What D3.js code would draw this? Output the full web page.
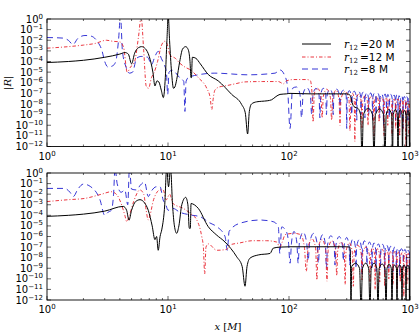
<!DOCTYPE html>
<html><head><meta charset="utf-8">
<script src="https://cdn.jsdelivr.net/npm/d3@7"></script>
<style>body{margin:0;background:#fff}svg{display:block}</style>
</head><body>
<script>
// ---------------- data ----------------
const seriesLabels = ["20 M", "12 M", "8 M"];
const xTickValues = [1, 10, 100, 1000];
const xTickExp = ["0", "1", "2", "3"];
const yTickExp = ["0","−1","−2","−3","−4","−5","−6","−7","−8","−9","−10","−11","−12"];

const blackTop = [[1,8e-5],[1.5,1e-4],[2,1.3e-4],[3,2.5e-4],[4,5e-4],[4.4,7e-4],[4.7,5e-4],[5.0,6e-5],[5.3,6e-4],[5.7,2e-3],[6.05,2.5e-3],[6.5,1.6e-3],[7.0,3e-4],[7.5,1e-5],[7.8,5e-7],[8.1,1.5e-6],[8.4,1.2e-6],[8.8,2e-7],[9.15,4e-8],[9.5,3e-6],[9.8,1e-2],[10.05,2],[10.3,1e-2],[10.7,1e-5],[11.1,3e-7],[11.4,4e-7],[11.8,2e-6],[12.5,1e-4],[13.2,1.5e-3],[14.0,2.5e-3],[14.7,1.3e-3],[15.2,1e-4],[15.5,3e-6],[15.6,3e-6],[15.9,2.5e-4],[17,2e-4],[18.5,6e-5],[21.5,6e-6],[26,1.5e-6],[33.6,8e-8],[40.6,9e-9],[43.5,1.5e-9],[45.5,1.5e-11],[47,2e-9],[49,1e-8],[54,1.6e-8],[59.4,1.8e-8],[66,2e-8],[71.9,2.5e-8],[78,5e-8],[84.3,8e-8],[95,9e-8],[102,1e-7],[150,9e-8],[250,9e-8],[300,9e-8],[315,8e-8],[325,4e-8],[335,1e-8],[350,5e-9],[370,4e-9],[390,1e-9],[401,1e-13],[412,1e-9],[450,4e-9],[490,1e-9],[504,1e-13],[518,1e-9],[560,3.5e-9],[605,1e-9],[621,1e-13],[636,1e-9],[668,3e-9],[705,1e-9],[717,1e-13],[728,1e-9],[755,3e-9],[785,1e-9],[796,1e-13],[806,1e-9],[830,3e-9],[858,1e-9],[867,1e-13],[876,1e-9],[900,2.5e-9],[926,1e-9],[935,1e-13],[944,1e-9],[962,2.5e-9],[983,1e-9],[991,1e-13],[997,1e-9],[1000,2e-9]];

const redTop = [[1,1.8e-3],[1.5,2.5e-3],[2,3.5e-3],[2.5,5e-3],[3.1,1e-2],[3.5,8e-3],[4.0,7e-3],[4.3,2e-3],[4.6,1e-5],[4.9,3e-5],[5.3,1e-4],[5.7,2e-2],[6.0,1.5],[6.3,1e-3],[6.6,5e-7],[6.9,3e-7],[7.3,3e-6],[7.7,1e-5],[8.2,1e-4],[8.8,3e-3],[9.4,8e-3],[9.8,5e-3],[10.4,4e-4],[11.5,2e-4],[12.5,7e-5],[13.8,3e-5],[15.5,1.5e-5],[17.8,3e-6],[20.9,3e-7],[22.3,4e-8],[23,3e-9],[23.7,4e-8],[24.4,2e-7],[26.5,4e-7],[29.6,5e-7],[36,8e-7],[43.3,1.2e-6],[60,1.3e-6],[81.6,1.3e-6],[90,8e-7],[95,1.5e-6],[110,2e-6],[140,2e-6],[150,1.6e-6],[155,1e-7],[158,2e-10],[162,1e-7],[172,3e-7],[184,5e-8],[188,5e-10],[192,5e-8],[205,2.5e-7],[220,4e-8],[225,3e-10],[230,4e-8],[245,2e-7],[259,3e-8],[264,1e-10],[269,3e-8],[290,1.5e-7],[313,3e-8],[319,3e-11],[325,3e-8],[335,1e-7],[346,3e-8],[350,3e-12],[355,3e-8],[375,8e-8],[395,2e-8],[401,5e-11],[407,2e-8],[425,6e-8],[444,2e-8],[450,1e-10],[456,2e-8],[480,5e-8],[498,2e-8],[504,1e-11],[510,2e-8],[530,5e-8],[550,1.5e-8],[555,2e-10],[560,1.5e-8],[585,4e-8],[604,1.5e-8],[610,1e-11],[616,1.5e-8],[635,4e-8],[650,1.5e-8],[655,1e-10],[660,1.5e-8],[685,3e-8],[706,1e-8],[711,1e-11],[716,1e-8],[740,3e-8],[757,1e-8],[762,5e-11],[767,1e-8],[795,3e-8],[817,1e-8],[822,1e-11],[827,1e-8],[850,2.5e-8],[870,1e-8],[875,5e-11],[880,1e-8],[900,2.5e-8],[920,1e-8],[925,1e-12],[930,1e-8],[955,2e-8],[978,1e-8],[983,1e-11],[988,1e-8],[1000,2e-8]];

const blueTop = [[1,1.8e-2],[1.35,1.6e-2],[1.5,1e-2],[1.64,4e-3],[1.8,1.5e-2],[2.06,2.8e-2],[2.3,2.5e-2],[2.6,8e-3],[2.85,1e-3],[3.0,1e-4],[3.2,3e-5],[3.5,4e-5],[3.7,1e-4],[3.9,1e-2],[4.05,2],[4.2,1e-3],[4.5,3e-5],[4.8,8e-6],[5.1,1e-5],[5.5,2e-4],[6.0,3e-4],[6.8,2.5e-4],[7.3,5e-5],[7.8,3e-4],[8.3,9e-4],[8.8,2e-4],[9.3,5e-5],[9.7,1e-5],[9.94,8e-8],[10.2,1e-5],[10.8,1.5e-5],[12.5,3e-6],[13.5,1.3e-6],[13.8,2e-9],[14.1,1.3e-6],[14.7,3e-6],[17.8,5.6e-6],[24.4,8e-6],[46,5.6e-6],[76.6,8e-6],[84.3,1.6e-5],[92,5e-6],[97,5e-7],[102,5e-11],[107,3e-7],[115,4e-7],[123,1e-7],[127,5e-10],[131,1e-7],[140,3.5e-7],[150,8e-8],[154,1e-9],[158,8e-8],[167,3e-7],[177,8e-8],[180,5e-10],[183,8e-8],[192,3e-7],[201,8e-8],[204,1e-9],[207,8e-8],[218,2.5e-7],[229,7e-8],[232,1e-9],[235,7e-8],[248,2.5e-7],[261,7e-8],[264,2e-9],[267,7e-8],[282,2e-7],[297,6e-8],[300,5e-11],[303,6e-8],[315,1.8e-7],[327,6e-8],[330,1e-9],[333,6e-8],[346,1.6e-7],[360,5e-8],[363,3e-10],[366,5e-8],[380,1.4e-7],[391,5e-8],[394,1e-9],[397,5e-8],[410,1.3e-7],[421,5e-8],[424,5e-10],[427,5e-8],[440,1.2e-7],[453,4e-8],[456,1e-9],[459,4e-8],[473,1.1e-7],[487,4e-8],[490,3e-10],[493,4e-8],[507,1e-7],[521,4e-8],[524,1e-9],[527,4e-8],[543,1e-7],[558,4e-8],[562,5e-10],[566,4e-8],[583,9e-8],[600,3.5e-8],[604,1e-10],[608,3.5e-8],[622,9e-8],[636,3.5e-8],[640,1e-9],[644,3.5e-8],[657,8e-8],[670,3e-8],[674,5e-10],[678,3e-8],[695,8e-8],[713,3e-8],[717,1e-9],[721,3e-8],[738,7e-8],[756,3e-8],[760,2e-10],[764,3e-8],[778,7e-8],[792,3e-8],[796,1e-9],[800,3e-8],[813,6e-8],[827,3e-8],[831,5e-10],[835,3e-8],[853,6e-8],[871,2.5e-8],[875,5e-11],[879,2.5e-8],[898,5e-8],[917,2.5e-8],[921,1e-9],[925,2.5e-8],[942,5e-8],[958,2.5e-8],[962,3e-10],[966,2.5e-8],[985,4e-8],[1000,3e-8]];

const blackBottom = [[1,8e-5],[1.5,1e-4],[2,1.3e-4],[3,2.5e-4],[4.27,7e-4],[4.55,3e-4],[4.76,3.5e-5],[5.0,3e-4],[5.4,2e-3],[5.87,3e-3],[6.4,1.5e-3],[6.87,3e-4],[7.4,1e-5],[7.8,5e-7],[8.05,1e-6],[8.3,5e-8],[8.6,1e-6],[8.9,5e-6],[9.4,1e-3],[9.75,3],[10.1,5e-2],[10.5,3],[10.9,1e-3],[11.3,1e-5],[11.8,2e-6],[12.3,1e-5],[13,1e-3],[14,5e-3],[14.6,1e-3],[15,6e-6],[15.3,6e-6],[15.5,1.3e-3],[16.5,1e-3],[17.8,4.5e-4],[21.5,8.5e-6],[25,1.5e-6],[29.6,3e-7],[37,1.2e-8],[41,1.5e-9],[43.3,2e-11],[45,1.5e-9],[47.6,9e-9],[55.7,1.8e-8],[69.7,2.5e-8],[74.2,8e-8],[85,1e-7],[102,1.07e-7],[300,1.07e-7],[318,1e-7],[322,1e-8],[325,1e-13],[330,1.5e-9],[355,3e-9],[383,1e-9],[394,1e-13],[405,1e-9],[430,3e-9],[455,1e-9],[467,1e-13],[478,1e-9],[505,3e-9],[532,1e-9],[544,1e-13],[556,1e-9],[590,2.5e-9],[620,1e-9],[634,1e-13],[646,1e-9],[672,2.5e-9],[700,1e-9],[710,1e-13],[720,1e-9],[745,2e-9],[772,1e-9],[781,1e-13],[790,1e-9],[820,2e-9],[850,1e-9],[859,1e-13],[868,1e-9],[893,2e-9],[920,1e-9],[927,1e-13],[934,1e-9],[960,2e-9],[985,1e-9],[991,1e-13],[996,1e-9],[1000,1.5e-9]];

const redBottom = [[1,2e-3],[1.5,3e-3],[2.06,4e-3],[2.83,1e-2],[3.4,1.7e-2],[3.8,8e-3],[4.1,1.3e-3],[4.4,1e-4],[4.56,2.5e-5],[4.8,1e-4],[5.2,2e-3],[5.87,2.5e-2],[6.3,1e-2],[6.6,3e-4],[6.87,3.6e-5],[7.1,1e-4],[7.6,3e-3],[8.6,2.5e-2],[9.1,2.5e-2],[9.7,3e-3],[10.3,1e-2],[11,1.3e-3],[13.4,4.5e-4],[15.2,1.6e-4],[17.3,3.6e-5],[19,1e-6],[19.6,1e-7],[20.1,3e-10],[20.6,1e-7],[21.5,2e-7],[25.3,5e-8],[30.5,6e-8],[32.5,1.6e-7],[39.4,2.5e-7],[50,4e-7],[65,4e-7],[79,3e-7],[84,1e-7],[88,3e-7],[93,1.5e-6],[110,2e-6],[125,1.5e-6],[134,1e-7],[139,5e-10],[144,1e-7],[155,6e-7],[166,8e-8],[170,8e-11],[174,8e-8],[187,5e-7],[201,6e-8],[206,6e-11],[211,6e-8],[226,4e-7],[243,5e-8],[248,2e-10],[253,5e-8],[270,3e-7],[286,4e-8],[291,3e-11],[296,4e-8],[315,2.5e-7],[334,3e-8],[340,2e-11],[346,3e-8],[370,1.5e-7],[395,2.5e-8],[401,8e-11],[407,2.5e-8],[433,1e-7],[461,2e-8],[467,5e-11],[473,2e-8],[490,8e-8],[510,2e-8],[515,1e-11],[520,2e-8],[540,7e-8],[557,2e-8],[562,5e-11],[567,2e-8],[590,6e-8],[612,1.5e-8],[618,2e-11],[624,1.5e-8],[643,5e-8],[663,1.5e-8],[668,1e-10],[673,1.5e-8],[695,4e-8],[719,1.5e-8],[724,3e-11],[729,1.5e-8],[752,4e-8],[776,1.2e-8],[781,1e-11],[786,1.2e-8],[805,3.5e-8],[826,1.2e-8],[831,5e-11],[836,1.2e-8],[860,3e-8],[884,1e-8],[889,2e-12],[894,1e-8],[915,3e-8],[938,1e-8],[943,3e-11],[948,1e-8],[967,2.5e-8],[986,1e-8],[991,1e-12],[996,1e-8],[1000,2e-8]];

const blueBottom = [[1,3.5e-2],[1.4,3.5e-2],[1.55,1.5e-2],[1.65,6e-3],[1.8,3e-2],[2.0,9e-2],[2.3,5e-2],[2.74,3e-3],[3.0,1e-4],[3.2,2e-4],[3.4,3e-4],[3.55,1e-2],[3.65,3],[3.8,1e-1],[4.1,1.5e-2],[4.4,2.5e-2],[4.65,1e-3],[4.8,3],[5.0,3e-2],[5.5,2.5e-2],[5.9,7e-2],[6.4,1.4e-1],[6.87,6e-3],[7.3,2e-2],[8.0,5e-2],[8.6,5e-2],[9.1,3e-3],[9.6,1e-3],[10,3e-4],[11,4.5e-4],[12.5,2e-4],[15.2,1.1e-4],[18.4,7.5e-5],[22,2e-5],[25.3,8.5e-6],[29.6,1e-6],[30.9,5e-8],[32,3e-6],[39.4,1.8e-5],[57.6,3.6e-5],[74,2.5e-5],[81.6,8.5e-6],[84,2.5e-8],[87,8e-6],[95,3e-6],[99,3e-7],[102,3e-9],[105,3e-7],[110,3e-6],[116,3e-7],[119,3e-9],[122,3e-7],[131,2.5e-6],[140,2.5e-7],[144,5e-9],[148,2.5e-7],[160,2e-6],[171,2e-7],[175,3e-9],[179,2e-7],[190,1.5e-6],[200,1.5e-7],[204,1e-9],[208,1.5e-7],[222,1.2e-6],[236,1.5e-7],[240,2e-9],[244,1.5e-7],[260,1e-6],[277,1.2e-7],[281,5e-9],[285,1.2e-7],[300,8e-7],[314,1e-7],[318,2e-9],[322,1e-7],[338,6e-7],[354,1e-7],[358,1e-9],[362,1e-7],[380,5e-7],[397,8e-8],[401,3e-10],[405,8e-8],[420,4e-7],[437,8e-8],[441,2e-9],[445,8e-8],[463,3e-7],[481,7e-8],[485,1e-9],[489,7e-8],[505,2.5e-7],[520,6e-8],[524,5e-10],[528,6e-8],[548,2e-7],[567,6e-8],[571,1e-9],[575,6e-8],[595,1.8e-7],[614,5e-8],[618,3e-10],[622,5e-8],[643,1.5e-7],[664,5e-8],[668,1e-9],[672,5e-8],[695,1.2e-7],[720,4e-8],[724,5e-10],[728,4e-8],[748,1e-7],[767,4e-8],[771,1e-9],[775,4e-8],[797,8e-8],[818,3.5e-8],[822,2e-10],[826,3.5e-8],[850,7e-8],[877,3e-8],[881,1e-9],[885,3e-8],[908,6e-8],[931,3e-8],[935,3e-10],[939,3e-8],[963,5e-8],[987,3e-8],[991,1e-10],[995,3e-8],[1000,4e-8]];

// ---------------- drawing ----------------
const W = 420, H = 333;
const L = 47, R = 410;
const panels = [
  {top: 19, bottom: 146.5, series: [blackTop, redTop, blueTop], legend: true, ylabel: true, xlabY: 160},
  {top: 173, bottom: 300, series: [blackBottom, redBottom, blueBottom], legend: false, ylabel: false, xlabY: 313}
];
const styles = [
  {color: "#000000", dash: null, w: 1.0},
  {color: "#e8202a", dash: "3.5,2,1,2", w: 0.9},
  {color: "#1f1fd0", dash: "6,4", w: 0.9}
];

const svg = d3.select("body").append("svg").attr("width", W).attr("height", H)
  .style("font-family", "'DejaVu Sans', sans-serif");

const x = d3.scaleLog().domain([1, 1000]).range([L, R]);

panels.forEach((p, pi) => {
  const y = d3.scaleLog().domain([1e-12, 1]).range([p.bottom, p.top]);
  const g = svg.append("g");
  const cid = "clip" + pi;
  svg.append("clipPath").attr("id", cid).append("rect")
    .attr("x", L).attr("y", p.top).attr("width", R - L).attr("height", p.bottom - p.top);

  const line = d3.line().x(d => x(d[0])).y(d => y(d[1])).curve(d3.curveMonotoneX);
  const order = [2, 1, 0];
  order.forEach(i => {
    g.append("path").attr("clip-path", `url(#${cid})`)
      .attr("d", line(p.series[i]))
      .attr("fill", "none").attr("stroke", styles[i].color)
      .attr("stroke-width", styles[i].w)
      .attr("stroke-dasharray", styles[i].dash)
      .attr("stroke-linejoin", "round");
  });

  // x ticks (major + minor), top and bottom, inward
  const minor = [];
  for (let e = 0; e < 3; e++) for (let m = 2; m <= 9; m++) minor.push(m * Math.pow(10, e));
  const tg = g.append("g").attr("stroke", "#000").attr("stroke-width", 0.6);
  xTickValues.forEach(v => {
    tg.append("line").attr("x1", x(v)).attr("x2", x(v)).attr("y1", p.bottom).attr("y2", p.bottom - 4);
    tg.append("line").attr("x1", x(v)).attr("x2", x(v)).attr("y1", p.top).attr("y2", p.top + 4);
  });
  minor.forEach(v => {
    tg.append("line").attr("x1", x(v)).attr("x2", x(v)).attr("y1", p.bottom).attr("y2", p.bottom - 2);
    tg.append("line").attr("x1", x(v)).attr("x2", x(v)).attr("y1", p.top).attr("y2", p.top + 2);
  });
  const yTicks = yTickExp.map((e, i) => Math.pow(10, -i));
  yTicks.forEach(v => {
    tg.append("line").attr("x1", L).attr("x2", L + 4).attr("y1", y(v)).attr("y2", y(v));
    tg.append("line").attr("x1", R).attr("x2", R - 4).attr("y1", y(v)).attr("y2", y(v));
  });

  // frame
  g.append("rect").attr("x", L).attr("y", p.top).attr("width", R - L).attr("height", p.bottom - p.top)
    .attr("fill", "none").attr("stroke", "#000").attr("stroke-width", 0.9);

  // y tick labels
  yTicks.forEach((v, i) => {
    const t = g.append("text").attr("x", 43).attr("y", y(v) + 3.5)
      .attr("text-anchor", "end").attr("font-size", 10).attr("fill", "#000");
    t.append("tspan").text("10");
    t.append("tspan").attr("dy", -4).attr("font-size", 7).text(yTickExp[i]);
  });
  // x tick labels
  xTickValues.forEach((v, i) => {
    const t = g.append("text").attr("x", x(v)).attr("y", p.xlabY)
      .attr("text-anchor", "middle").attr("font-size", 10).attr("fill", "#000");
    t.append("tspan").text("10");
    t.append("tspan").attr("dy", -4).attr("font-size", 7).text(xTickExp[i]);
  });

  if (p.ylabel) {
    const t = svg.append("text").attr("transform", `translate(11,${(p.top + p.bottom) / 2}) rotate(-90)`)
      .attr("text-anchor", "middle").attr("font-size", 10).attr("font-family", "'DejaVu Serif', serif");
    t.append("tspan").text("|");
    t.append("tspan").attr("font-style", "italic").text("R");
    t.append("tspan").text("|");
  }

  if (p.legend) {
    const rows = [44, 57, 69];
    rows.forEach((ry, i) => {
      svg.append("line").attr("x1", 302).attr("x2", 331).attr("y1", ry).attr("y2", ry)
        .attr("stroke", styles[i].color).attr("stroke-width", styles[i].w)
        .attr("stroke-dasharray", styles[i].dash);
      const t = svg.append("text").attr("x", 344).attr("y", ry + 3.5).attr("font-size", 10.5).attr("fill", "#000");
      t.append("tspan").attr("font-family", "'DejaVu Serif', serif").attr("font-style", "italic").text("r");
      t.append("tspan").attr("dy", 2.5).attr("font-size", 7).attr("font-family", "'DejaVu Serif', serif").text("12");
      t.append("tspan").attr("dy", -2.5).attr("font-family", "'DejaVu Serif', serif").text("\u2009=");
      t.append("tspan").text(seriesLabels[i]);
    });
  }
});

// x axis label
const xl = svg.append("text").attr("x", 228).attr("y", 330).attr("text-anchor", "middle")
  .attr("font-size", 10).attr("font-family", "'DejaVu Serif', serif");
xl.append("tspan").attr("font-style", "italic").text("x");
xl.append("tspan").text(" [");
xl.append("tspan").attr("font-style", "italic").text("M");
xl.append("tspan").text("]");
</script>
</body></html>
